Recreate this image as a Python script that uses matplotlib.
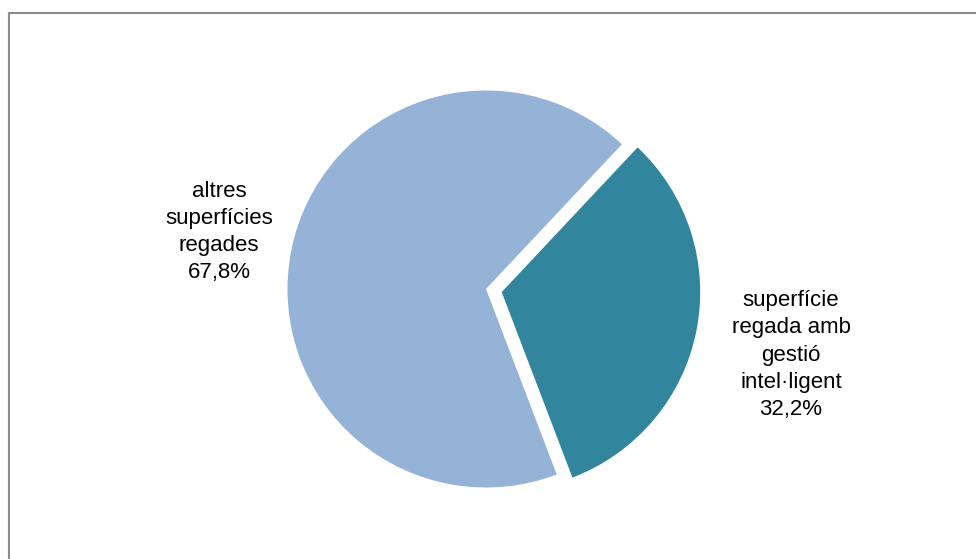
import matplotlib
matplotlib.use("Agg")
import matplotlib.pyplot as plt
from matplotlib.lines import Line2D

labels = ["superfície\nregada amb\ngestió\nintel·ligent", "altres\nsuperfícies\nregades"]
values = [32.2, 67.8]
pct_text = ["32,2%", "67,8%"]
colors = ["#31859C", "#95B3D7"]

W, H = 976, 559
fig = plt.figure(figsize=(W / 100, H / 100), dpi=100)
ax = fig.add_axes([0, 0, 1, 1])

# pie drawn in pixel coordinates (y up); explode is in data units here
ax.pie(values, colors=colors, startangle=46.8, counterclock=False,
       center=(486, H - 289), radius=198.5, explode=[16, 0],
       wedgeprops=dict(linewidth=0), frame=True)
ax.set_xlim(0, W)
ax.set_ylim(0, H)
ax.set_aspect("equal")
ax.axis("off")

txt = dict(ha="center", va="center", fontsize=16, family="Liberation Sans",
           linespacing=1.38, color="#000000")
ax.text(791, H - 355, labels[0] + "\n" + pct_text[0], **txt)
ax.text(219, H - 232, labels[1] + "\n" + pct_text[1], **txt)

# chart area border (left and top visible)
fig.add_artist(Line2D([8.5 / W, 8.5 / W], [0, 1 - 12.5 / H], transform=fig.transFigure,
                      color="#8c8c8c", lw=1.5))
fig.add_artist(Line2D([8.5 / W, 1], [1 - 12.5 / H, 1 - 12.5 / H], transform=fig.transFigure,
                      color="#8c8c8c", lw=1.5))

fig.savefig("out.png", dpi=100)
